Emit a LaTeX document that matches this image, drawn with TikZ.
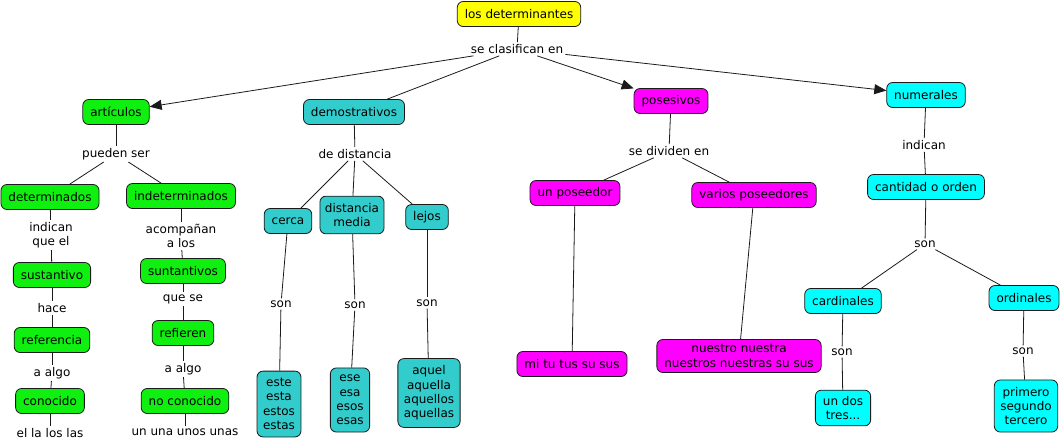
\documentclass[tikz,border=0pt]{standalone}
\usepackage{fontspec}
\setmainfont{DejaVu Sans}
\usetikzlibrary{arrows.meta}
\definecolor{cyel}{HTML}{FFFF00}
\definecolor{cgrn}{HTML}{10F010}
\definecolor{cteal}{HTML}{33CCCC}
\definecolor{cmag}{HTML}{FF00FF}
\definecolor{ccyan}{HTML}{00FFFF}
\definecolor{cline}{HTML}{1A1A1A}
\begin{document}
\begin{tikzpicture}[x=1pt,y=-1pt,
  every node/.style={font=\fontsize{12pt}{14.4pt}\selectfont, text=black},
  box/.style={draw=cline, line width=0.8pt, rounded corners=6pt, align=center,
    inner xsep=7.5pt, inner ysep=5pt, minimum height=25pt},
  multi/.style={inner ysep=7pt},
  yb/.style={box, fill=cyel},
  gb/.style={box, fill=cgrn},
  tb/.style={box, fill=cteal},
  mb/.style={box, fill=cmag},
  cb/.style={box, fill=ccyan},
  lbl/.style={inner sep=2pt, align=center},
  conn/.style={draw=cline, line width=0.8pt},
  arr/.style={conn, -{Triangle[length=12pt,width=10pt]}}
]
\useasboundingbox (0,0) rectangle (1062,447);

% top
\node[yb] (top) at (519,14) {los determinantes};
\node[lbl] (clas) at (517,49) {se clasifican en};
\node[gb] (art) at (116,112) {artículos};
\node[tb] (demo) at (354,112) {demostrativos};
\node[mb] (pos) at (671,101) {posesivos};
\node[cb] (num) at (926,95) {numerales};

% artículos branch
\node[lbl] (pueden) at (116,154) {pueden ser};
\node[gb] (det) at (50,197) {determinados};
\node[gb] (indet) at (181,196) {indeterminados};
\node[lbl] (indq) at (51,235) {indican\\que el};
\node[lbl] (acomp) at (181,236) {acompañan\\a los};
\node[gb] (sust) at (52,275) {sustantivo};
\node[gb] (sunt) at (183,271) {suntantivos};
\node[lbl] (hace) at (52,308) {hace};
\node[lbl] (quese) at (183,299) {que se};
\node[gb] (ref) at (52,340) {referencia};
\node[gb] (refi) at (183,333) {refieren};
\node[lbl] (algoa) at (52,373) {a algo};
\node[lbl] (algob) at (183,369) {a algo};
\node[gb] (con) at (50,401) {conocido};
\node[gb] (nocon) at (185,401) {no conocido};
\node[lbl] (ella) at (50,433) {el la los las};
\node[lbl] (unas) at (185,432) {un una unos unas};

% demostrativos branch
\node[lbl] (dist) at (355,154) {de distancia};
\node[tb] (cerca) at (288,221) {cerca};
\node[tb, multi, inner xsep=5pt] (media) at (352,215) {distancia\\media};
\node[tb] (lejos) at (427,217) {lejos};
\node[lbl] (sona) at (281,304) {son};
\node[lbl] (sonb) at (355,305) {son};
\node[lbl] (sonc) at (427,303) {son};
\node[tb, multi, inner xsep=6pt] (este) at (279,404) {este\\esta\\estos\\estas};
\node[tb, multi, inner xsep=6pt] (ese) at (350,400) {ese\\esa\\esos\\esas};
\node[tb, multi, inner xsep=6pt] (aquel) at (429,393) {aquel\\aquella\\aquellos\\aquellas};

% posesivos branch
\node[lbl] (divid) at (669,151) {se dividen en};
\node[mb] (unpos) at (575,193) {un poseedor};
\node[mb] (varios) at (754,195) {varios poseedores};
\node[mb] (mitu) at (572,364) {mi tu tus su sus};
\node[mb, multi, inner ysep=5pt] (nuestro) at (739,356) {nuestro nuestra\\nuestros nuestras su sus};

% numerales branch
\node[lbl] (indican) at (924,145) {indican};
\node[cb] (cant) at (926,187) {cantidad o orden};
\node[lbl] (sond) at (925,244) {son};
\node[cb] (card) at (843,301) {cardinales};
\node[cb] (ord) at (1024,298) {ordinales};
\node[lbl] (sone) at (842,352) {son};
\node[lbl] (sonf) at (1023,351) {son};
\node[cb, multi, inner ysep=6pt] (undos) at (843,408) {un dos\\tres...};
\node[cb, multi, inner xsep=6pt] (primero) at (1026,406) {primero\\segundo\\tercero};

% connectors
\draw[conn] (top) -- (clas);
\draw[arr] (clas) -- (art);
\draw[conn] (clas) -- (demo);
\draw[arr] (clas) -- (pos);
\draw[arr] (clas) -- (num);

\draw[conn] (art) -- (pueden);
\draw[conn] (pueden) -- (det);
\draw[conn] (pueden) -- (indet);
\draw[conn] (det) -- (indq);
\draw[conn] (indq) -- (sust);
\draw[conn] (sust) -- (hace);
\draw[conn] (hace) -- (ref);
\draw[conn] (ref) -- (algoa);
\draw[conn] (algoa) -- (con);
\draw[conn] (con) -- (ella);
\draw[conn] (indet) -- (acomp);
\draw[conn] (acomp) -- (sunt);
\draw[conn] (sunt) -- (quese);
\draw[conn] (quese) -- (refi);
\draw[conn] (refi) -- (algob);
\draw[conn] (algob) -- (nocon);
\draw[conn] (nocon) -- (unas);

\draw[conn] (demo) -- (dist);
\draw[conn] (dist) -- (cerca);
\draw[conn] (dist) -- (media);
\draw[conn] (dist) -- (lejos);
\draw[conn] (cerca) -- (sona);
\draw[conn] (sona) -- (este);
\draw[conn] (media) -- (sonb);
\draw[conn] (sonb) -- (ese);
\draw[conn] (lejos) -- (sonc);
\draw[conn] (sonc) -- (aquel);

\draw[conn] (pos) -- (divid);
\draw[conn] (divid) -- (unpos);
\draw[conn] (divid) -- (varios);
\draw[conn] (unpos) -- (mitu);
\draw[conn] (varios) -- (nuestro);

\draw[conn] (num) -- (indican);
\draw[conn] (indican) -- (cant);
\draw[conn] (cant) -- (sond);
\draw[conn] (sond) -- (card);
\draw[conn] (sond) -- (ord);
\draw[conn] (card) -- (sone);
\draw[conn] (sone) -- (undos);
\draw[conn] (ord) -- (sonf);
\draw[conn] (sonf) -- (primero);
\end{tikzpicture}
\end{document}
